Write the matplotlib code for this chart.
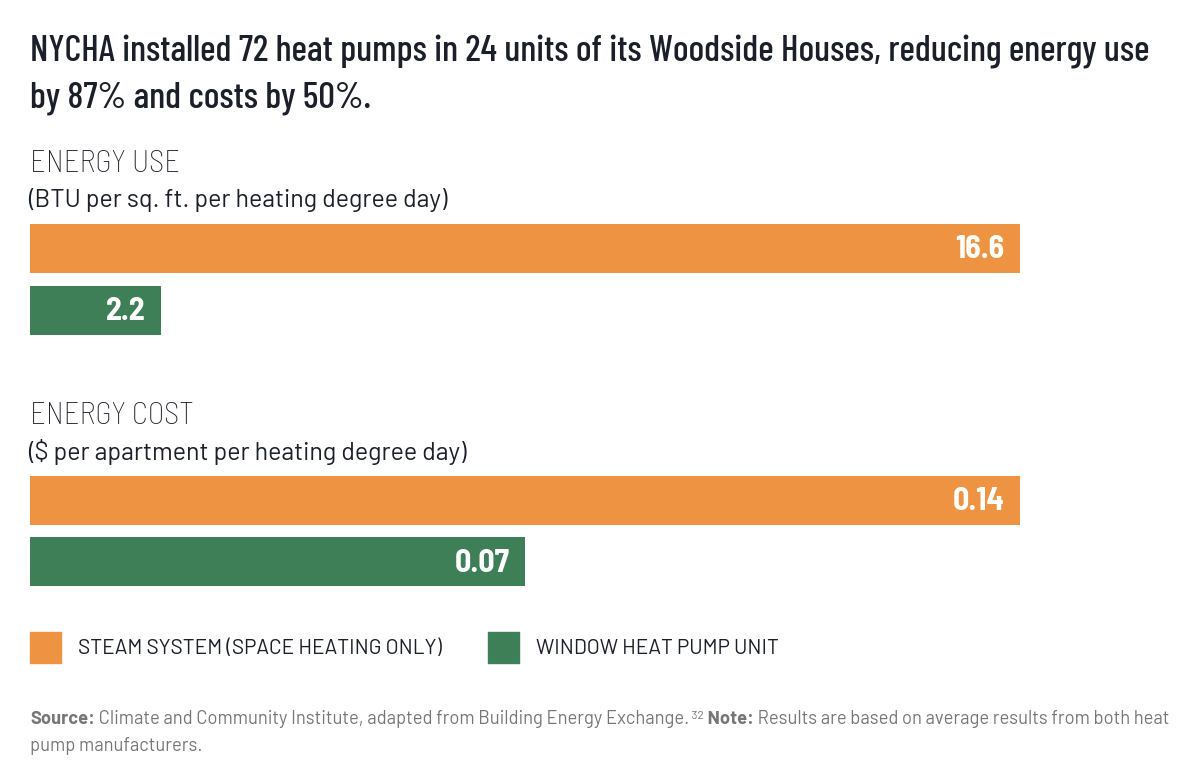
import matplotlib
matplotlib.use("Agg")
import matplotlib.pyplot as plt
from matplotlib.patches import Rectangle

# data
series = ["STEAM SYSTEM (SPACE HEATING ONLY)", "WINDOW HEAT PUMP UNIT"]
energy_use = [16.6, 2.2]
energy_cost = [0.14, 0.07]
use_labels = ["16.6", "2.2"]
cost_labels = ["0.14", "0.07"]

ORANGE = "#EE9341"
GREEN = "#3E7F58"
DARK = "#1b1f2a"
GREY = "#767676"
COND = ["Barlow Condensed", "Roboto Condensed", "DejaVu Sans"]
SEMI = ["Barlow Semi Condensed", "Barlow Condensed", "DejaVu Sans"]
REG = ["Barlow", "Roboto", "DejaVu Sans"]

W, H = 1200, 773
fig = plt.figure(figsize=(W / 100, H / 100), dpi=100)
fig.patch.set_facecolor("white")


def fx(x):
    return x / W


def fy(y):
    return 1 - y / H


def bar_panel(top, bottom, values, labels):
    ax = fig.add_axes([fx(30), fy(bottom), fx(990), (bottom - top) / H])
    ax.barh([0, 1], values, height=0.79, color=[ORANGE, GREEN])
    ax.set_xlim(0, values[0])
    ax.set_ylim(1.395, -0.395)
    ax.axis("off")
    for i, (v, lab) in enumerate(zip(values, labels)):
        ax.annotate(lab, (v, i), xytext=(-11, -1), textcoords="offset points",
                    ha="right", va="center", color="white", fontsize=23,
                    fontweight="bold", family=SEMI)
    return ax


# title
fig.text(fx(30), fy(52), "NYCHA installed 72 heat pumps in 24 units of its Woodside Houses, reducing energy use",
         fontsize=26.6, color=DARK, family=COND, fontweight="medium", va="center")
fig.text(fx(30), fy(98), "by 87% and costs by 50%.",
         fontsize=26.6, color=DARK, family=COND, fontweight="medium", va="center")

# energy use
fig.text(fx(30), fy(164), "ENERGY USE", fontsize=22, color=DARK, family=SEMI,
         fontweight="light", va="center")
fig.text(fx(28), fy(200), "(BTU per sq. ft. per heating degree day)", fontsize=18,
         color=DARK, family=REG, va="center")
bar_panel(224, 335, energy_use, use_labels)

# energy cost
fig.text(fx(30), fy(416), "ENERGY COST", fontsize=22, color=DARK, family=SEMI,
         fontweight="light", va="center")
fig.text(fx(28), fy(452), "($ per apartment per heating degree day)", fontsize=18,
         color=DARK, family=REG, va="center")
bar_panel(476, 586, energy_cost, cost_labels)

# legend
for x0, col, name in [(30, ORANGE, series[0]), (488, GREEN, series[1])]:
    fig.patches.append(Rectangle((fx(x0), fy(663)), fx(31), 31 / H, color=col,
                                 transform=fig.transFigure, figure=fig))
    fig.text(fx(x0 + 48), fy(649), name, fontsize=15, color=DARK, family=REG, va="center")

# footer: pieces put one after another on the same baseline
pieces = [
    ("Source:", "bold", 13.2, 0),
    (" Climate and Community Institute, adapted from Building Energy Exchange.", "normal", 13.2, 0),
    (" 32", "normal", 8.5, 5),
    (" Note:", "bold", 13.2, 0),
    (" Results are based on average results from both heat", "normal", 13.2, 0),
]
base_y = fy(724)
footer = []
for txt, wt, fs, rise in pieces:
    t = fig.text(fx(30), base_y + rise / H, txt, fontsize=fs, color=GREY, family=REG,
                 fontweight=wt, va="baseline")
    footer.append(t)

fig.canvas.draw()
r = fig.canvas.get_renderer()
for prev, t in zip(footer[:-1], footer[1:]):
    bb = prev.get_window_extent(r)
    t.set_x(bb.x1 / W)

fig.text(fx(30), fy(751), "pump manufacturers.", fontsize=13.2, color=GREY, family=REG,
         va="baseline")

fig.savefig("out.png", dpi=100)
